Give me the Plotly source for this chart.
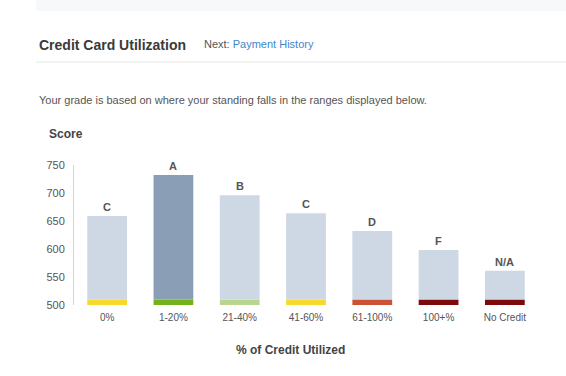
import plotly.graph_objects as go

categories = ["0%", "1-20%", "21-40%", "41-60%", "61-100%", "100+%", "No Credit"]
scores = [659, 732, 696, 664, 632, 598, 561]
grades = ["C", "A", "B", "C", "D", "F", "N/A"]
bar_colors = ["#ced8e5", "#8a9fb6", "#ced8e5", "#ced8e5", "#ced8e5", "#ced8e5", "#ced8e5"]
stripe_colors = ["#f6d92e", "#74b21a", "#bad58f", "#f6d92e", "#cc5236", "#7d0a0a", "#7d0a0a"]
y_ticks = [500, 550, 600, 650, 700, 750]

BASE = 500
STRIPE = 10

W, H = 566, 376
L, R, T, B = 74, 28, 165, 71
PW, PH = W - L - R, H - T - B

FONT = "Liberation Sans, Arial, sans-serif"


def px(x):
    return (x - L) / PW


def py(y):
    return (H - B - y) / PH


fig = go.Figure()
fig.add_trace(go.Bar(
    x=categories, y=[STRIPE] * len(categories), base=[BASE] * len(categories),
    marker=dict(color=stripe_colors, line=dict(width=0)), width=0.6,
    hoverinfo="skip", showlegend=False))
fig.add_trace(go.Bar(
    x=categories, y=[s - BASE - STRIPE for s in scores], base=[BASE + STRIPE] * len(categories),
    marker=dict(color=bar_colors, line=dict(width=0)), width=0.6,
    showlegend=False))

annotations = []
for c, s, g in zip(categories, scores, grades):
    annotations.append(dict(x=c, y=s, xref="x", yref="y", text="<b>" + g + "</b>", showarrow=False,
                            yanchor="bottom", yshift=1,
                            font=dict(family=FONT, size=11, color="#555555")))

annotations += [
    dict(x=px(37), y=py(45), xref="paper", yref="paper", xanchor="left", yanchor="middle",
         text="<b>Credit Card Utilization</b>", showarrow=False,
         font=dict(family=FONT, size=14, color="#3a3a3a")),
    dict(x=px(202), y=py(44), xref="paper", yref="paper", xanchor="left", yanchor="middle",
         text="Next: <span style='color:#3f86cc'>Payment History</span>", showarrow=False,
         font=dict(family=FONT, size=11, color="#555555")),
    dict(x=px(37), y=py(100), xref="paper", yref="paper", xanchor="left", yanchor="middle",
         text="Your grade is based on where your standing falls in the ranges displayed below.",
         showarrow=False,
         font=dict(family=FONT, size=11, color="#555555")),
    dict(x=px(47), y=py(134), xref="paper", yref="paper", xanchor="left", yanchor="middle",
         text="<b>Score</b>", showarrow=False,
         font=dict(family=FONT, size=12, color="#444444")),
    dict(x=px(290), y=py(350), xref="paper", yref="paper", xanchor="center", yanchor="middle",
         text="<b>% of Credit Utilized</b>", showarrow=False,
         font=dict(family=FONT, size=12, color="#444444")),
]

shapes = [
    dict(type="rect", xref="paper", yref="paper", x0=px(36), x1=px(566), y0=py(0), y1=py(11),
         fillcolor="#f7f8fa", line=dict(width=0), layer="below"),
    dict(type="line", xref="paper", yref="paper", x0=px(36), x1=px(566), y0=py(62), y1=py(62),
         line=dict(color="#e6e6e6", width=1)),
]

fig.update_layout(
    width=W, height=H,
    margin=dict(l=L, r=R, t=T, b=B, pad=0),
    paper_bgcolor="white", plot_bgcolor="white",
    barmode="overlay", bargap=0.4,
    annotations=annotations, shapes=shapes,
    xaxis=dict(type="category", range=[-0.5, 6.5], showgrid=False, zeroline=False,
               showline=False, ticks="", tickfont=dict(family=FONT, size=10, color="#555555"),
               ticklabelstandoff=5, fixedrange=True),
    yaxis=dict(range=[500, 750], tickvals=y_ticks, showgrid=False, zeroline=False,
               showline=True, linecolor="#cfd6de", linewidth=1, ticks="",
               tickfont=dict(family=FONT, size=11, color="#555555"),
               ticklabelstandoff=6, fixedrange=True),
)

fig.write_html("out.html")
